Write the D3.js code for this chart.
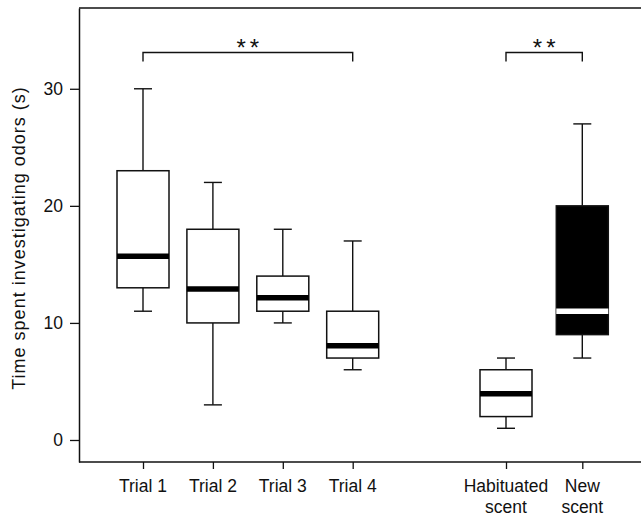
<!DOCTYPE html>
<html>
<head>
<meta charset="utf-8">
<script src="https://cdn.jsdelivr.net/npm/d3@7"></script>
<style>
  body { margin: 0; background: #fff; }
  svg { display: block; font-family: "Liberation Sans", Arial, sans-serif; }
</style>
</head>
<body>
<div id="chart-area"></div>
<script>
// box plot values
const categories = ["Trial 1", "Trial 2", "Trial 3", "Trial 4", "Habituated scent", "New scent"]
const groups = ["trials", "trials", "trials", "trials", "scent", "scent"]
const labelLines = [["Trial 1"], ["Trial 2"], ["Trial 3"], ["Trial 4"], ["Habituated", "scent"], ["New", "scent"]]
const whiskerLow = [11, 3, 10, 6, 1, 7]
const q1 = [13, 10, 11, 7, 2, 9]
const median = [15.7, 12.9, 12.15, 8.05, 3.95, 11]
const q3 = [23, 18, 14, 11, 6, 20]
const whiskerHigh = [30, 22, 18, 17, 7, 27]
const filled = [false, false, false, false, false, true]
const yTicks = [0, 10, 20, 30]
const brackets = [
  { from: "Trial 1", to: "Trial 4", level: 33.1, label: "**" },
  { from: "Habituated scent", to: "New scent", level: 33.1, label: "**" }
]

const MARGIN = { LEFT: 79, RIGHT: 0, TOP: 8, BOTTOM: 57 }
const WIDTH = 641 - MARGIN.LEFT - MARGIN.RIGHT
const HEIGHT = 519 - MARGIN.TOP - MARGIN.BOTTOM
const INK = "#111"

const svg = d3.select("#chart-area").append("svg")
  .attr("width", 641)
  .attr("height", 519)

const g = svg.append("g")
  .attr("transform", `translate(${MARGIN.LEFT}, ${MARGIN.TOP})`)

const yScale = d3.scaleLinear()
  .domain([-1.88, 36.9])
  .range([HEIGHT, 0])

// two groups of boxes, each spaced on its own
const xTrials = d3.scalePoint()
  .domain(categories.filter((c, i) => groups[i] === "trials"))
  .range([64, 273.7])
const xScent = d3.scalePoint()
  .domain(categories.filter((c, i) => groups[i] === "scent"))
  .range([427, 503.3])
const xPos = c => groups[categories.indexOf(c)] === "trials" ? xTrials(c) : xScent(c)
const xScale = d3.scaleOrdinal()
  .domain(categories)
  .range(categories.map(xPos))

const data = categories.map((c, i) => ({
  name: c, low: whiskerLow[i], q1: q1[i], median: median[i],
  q3: q3[i], high: whiskerHigh[i], filled: filled[i], lines: labelLines[i]
}))

const BOX_W = 52
const CAP_W = 18

// frame: top line and bottom line run to the edge
g.append("line")
  .attr("x1", 0).attr("x2", WIDTH)
  .attr("y1", 0).attr("y2", 0)
  .attr("stroke", INK).attr("stroke-width", 1.5)

const yAxis = g.append("g")
  .call(d3.axisLeft(yScale).tickValues(yTicks).tickSize(9).tickSizeOuter(0).tickPadding(7))
yAxis.select(".domain").attr("stroke", INK).attr("stroke-width", 1.5)
yAxis.selectAll(".tick line").attr("stroke", INK).attr("stroke-width", 1.3)
yAxis.selectAll(".tick text")
  .attr("font-size", 17.5)
  .attr("fill", INK)
  .attr("font-family", "Liberation Sans, Arial, sans-serif")

const xAxis = g.append("g")
  .attr("transform", `translate(0, ${HEIGHT})`)
  .call(d3.axisBottom(xScale).tickSize(7).tickSizeOuter(0))
xAxis.select(".domain").remove()
xAxis.selectAll(".tick line").attr("stroke", INK).attr("stroke-width", 1.3)
xAxis.selectAll(".tick text").remove()
xAxis.append("line")
  .attr("x1", 0).attr("x2", WIDTH)
  .attr("stroke", INK).attr("stroke-width", 1.5)

xAxis.selectAll(".xlabel")
  .data(data)
  .enter().append("text")
  .attr("class", "xlabel")
  .attr("text-anchor", "middle")
  .attr("font-size", 17.5)
  .attr("fill", INK)
  .each(function (d) {
    d3.select(this).selectAll("tspan")
      .data(d.lines)
      .enter().append("tspan")
      .attr("x", xScale(d.name))
      .attr("y", (l, i) => 30 + i * 20.5)
      .text(l => l)
  })

// y axis title
svg.append("text")
  .attr("transform", "translate(25, 238) rotate(-90)")
  .attr("text-anchor", "middle")
  .attr("font-size", 18)
  .attr("letter-spacing", 1)
  .attr("fill", INK)
  .text("Time spent investigating odors (s)")

// whiskers
const boxes = g.selectAll(".box")
  .data(data)
  .enter().append("g")
  .attr("class", "box")
  .attr("transform", d => `translate(${xScale(d.name)}, 0)`)

boxes.append("line")
  .attr("y1", d => yScale(d.high)).attr("y2", d => yScale(d.q3))
  .attr("stroke", INK).attr("stroke-width", 1.4)
boxes.append("line")
  .attr("y1", d => yScale(d.q1)).attr("y2", d => yScale(d.low))
  .attr("stroke", INK).attr("stroke-width", 1.4)
boxes.append("line")
  .attr("x1", -CAP_W / 2).attr("x2", CAP_W / 2)
  .attr("y1", d => yScale(d.high)).attr("y2", d => yScale(d.high))
  .attr("stroke", INK).attr("stroke-width", 1.4)
boxes.append("line")
  .attr("x1", -CAP_W / 2).attr("x2", CAP_W / 2)
  .attr("y1", d => yScale(d.low)).attr("y2", d => yScale(d.low))
  .attr("stroke", INK).attr("stroke-width", 1.4)

boxes.append("rect")
  .attr("x", -BOX_W / 2)
  .attr("width", BOX_W)
  .attr("y", d => yScale(d.q3))
  .attr("height", d => yScale(d.q1) - yScale(d.q3))
  .attr("fill", d => d.filled ? "#000" : "#fff")
  .attr("stroke", INK)
  .attr("stroke-width", 1.5)

boxes.append("line")
  .attr("x1", -BOX_W / 2).attr("x2", BOX_W / 2)
  .attr("y1", d => yScale(d.median)).attr("y2", d => yScale(d.median))
  .attr("stroke", d => d.filled ? "#fff" : "#000")
  .attr("stroke-width", 5.5)

// significance brackets
const br = g.selectAll(".bracket")
  .data(brackets)
  .enter().append("g")
  .attr("class", "bracket")

br.append("path")
  .attr("fill", "none")
  .attr("stroke", INK)
  .attr("stroke-width", 1.4)
  .attr("d", d => {
    const x1 = xScale(d.from), x2 = xScale(d.to), y = yScale(d.level)
    return `M${x1},${y + 9}V${y}H${x2}V${y + 9}`
  })

br.append("text")
  .attr("x", d => (xScale(d.from) + xScale(d.to)) / 2 + 2)
  .attr("y", d => yScale(d.level) + 4)
  .attr("text-anchor", "middle")
  .attr("font-size", 24)
  .attr("letter-spacing", 4)
  .attr("fill", INK)
  .text(d => d.label)
</script>
</body>
</html>
